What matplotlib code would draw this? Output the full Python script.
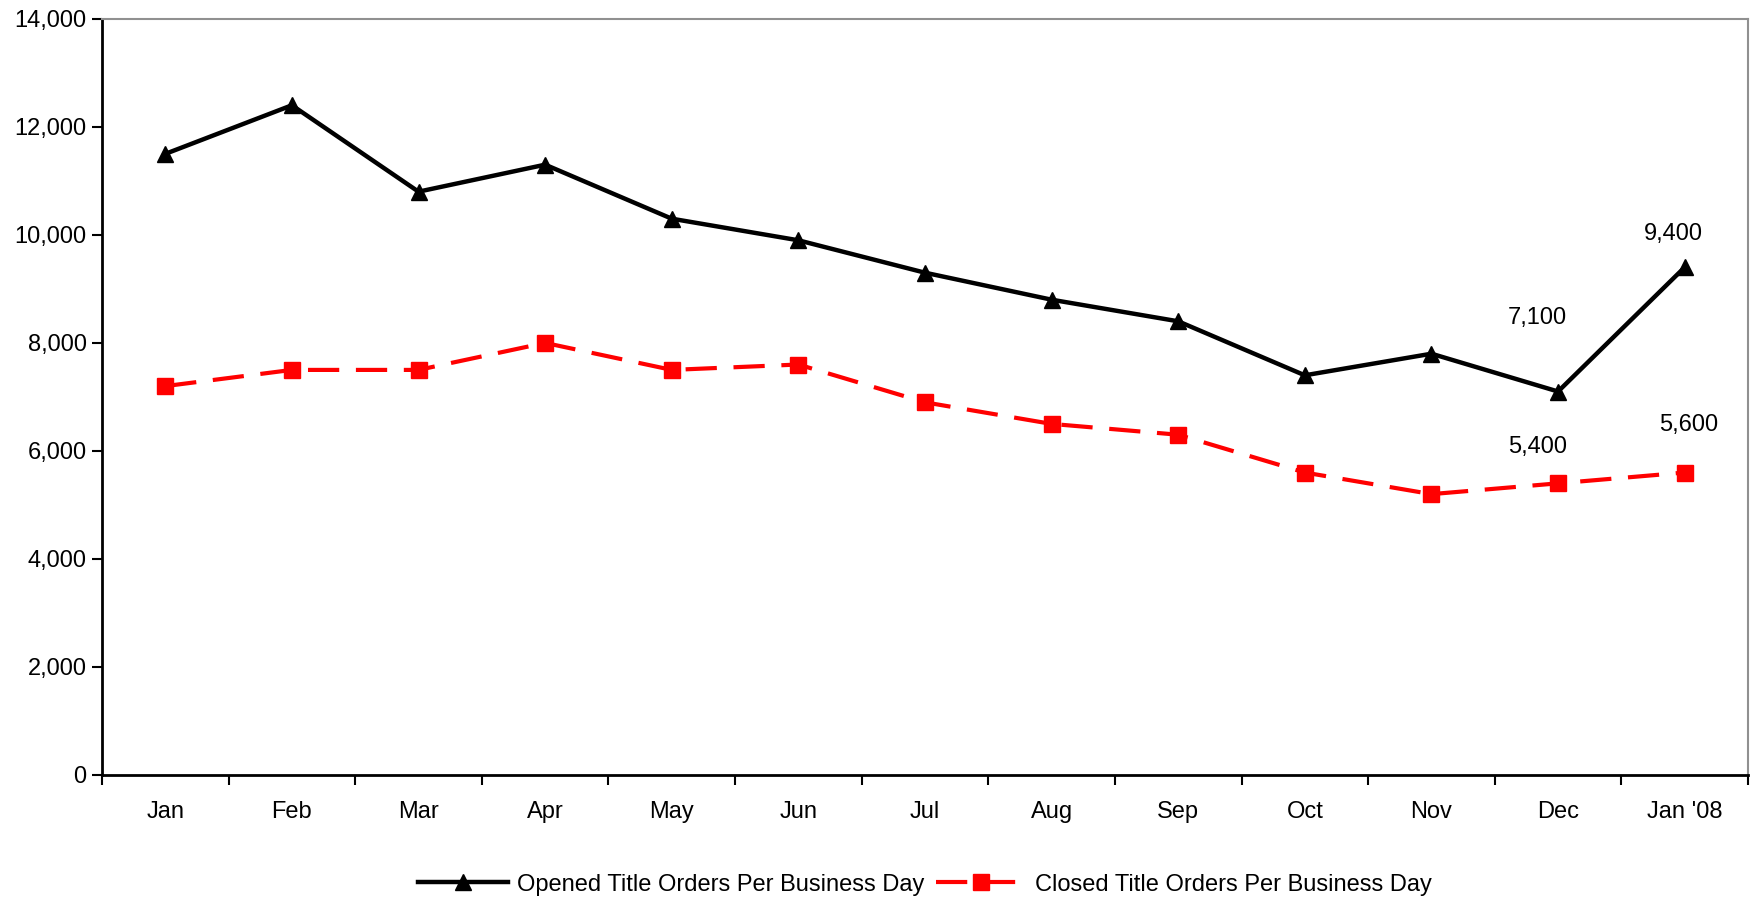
import matplotlib
matplotlib.use("Agg")
import matplotlib.pyplot as plt
from matplotlib.ticker import FuncFormatter, FixedLocator

plt.rcParams['font.family'] = ['Liberation Sans', 'DejaVu Sans']

# Data
months = ['Jan', 'Feb', 'Mar', 'Apr', 'May', 'Jun', 'Jul', 'Aug', 'Sep', 'Oct', 'Nov', 'Dec', "Jan '08"]
opened = [11500, 12400, 10800, 11300, 10300, 9900, 9300, 8800, 8400, 7400, 7800, 7100, 9400]
closed = [7200, 7500, 7500, 8000, 7500, 7600, 6900, 6500, 6300, 5600, 5200, 5400, 5600]

# labels shown on the chart: (index, offset in points)
opened_labels = [(11, (-15, 45)), (12, (-8, 16))]
closed_labels = [(11, (-15, 18)), (12, (3, 26))]

FS = 17

fig = plt.figure(figsize=(17.55, 8.98), dpi=100)
ax = fig.add_axes([0.0581, 0.137, 0.9379, 0.842])

x = list(range(len(months)))
ax.plot(x, opened, color='black', lw=3.2, marker='^', markersize=11,
        label='Opened Title Orders Per Business Day')
ax.plot(x, closed, color='#ff0000', lw=3.0, marker='s', markersize=11.5,
        dashes=(7.5, 4), label='Closed Title Orders Per Business Day')

for i, off in opened_labels:
    ax.annotate(f'{opened[i]:,}', (x[i], opened[i]), xytext=off, textcoords='offset points',
                ha='center', va='bottom', fontsize=FS)
for i, off in closed_labels:
    ax.annotate(f'{closed[i]:,}', (x[i], closed[i]), xytext=off, textcoords='offset points',
                ha='center', va='bottom', fontsize=FS)

ax.set_xlim(-0.5, len(months) - 0.5)
ax.set_ylim(0, 14000)
ax.set_yticks(range(0, 14001, 2000))
ax.yaxis.set_major_formatter(FuncFormatter(lambda v, p: f'{int(v):,}'))

# category labels between tick marks
ax.xaxis.set_major_locator(FixedLocator([i - 0.5 for i in range(len(months) + 1)]))
ax.xaxis.set_major_formatter(FuncFormatter(lambda v, p: ''))
ax.xaxis.set_minor_locator(FixedLocator(x))
ax.set_xticklabels(months, minor=True)
ax.tick_params(axis='x', which='minor', length=0, pad=19, labelsize=FS)
ax.tick_params(axis='x', which='major', length=7, width=1.5, direction='out')
ax.tick_params(axis='y', length=7, width=1.5, direction='out', labelsize=FS, pad=4)

for s in ['left', 'bottom']:
    ax.spines[s].set_linewidth(2)
    ax.spines[s].set_color('black')
for s in ['top', 'right']:
    ax.spines[s].set_linewidth(1.5)
    ax.spines[s].set_color('#909090')

ax.legend(loc='center', bbox_to_anchor=(0.5, -0.145), ncol=2, frameon=False,
          fontsize=FS, handlelength=3.8, handletextpad=0.4, columnspacing=0.5)

fig.savefig('out.png', dpi=100)
